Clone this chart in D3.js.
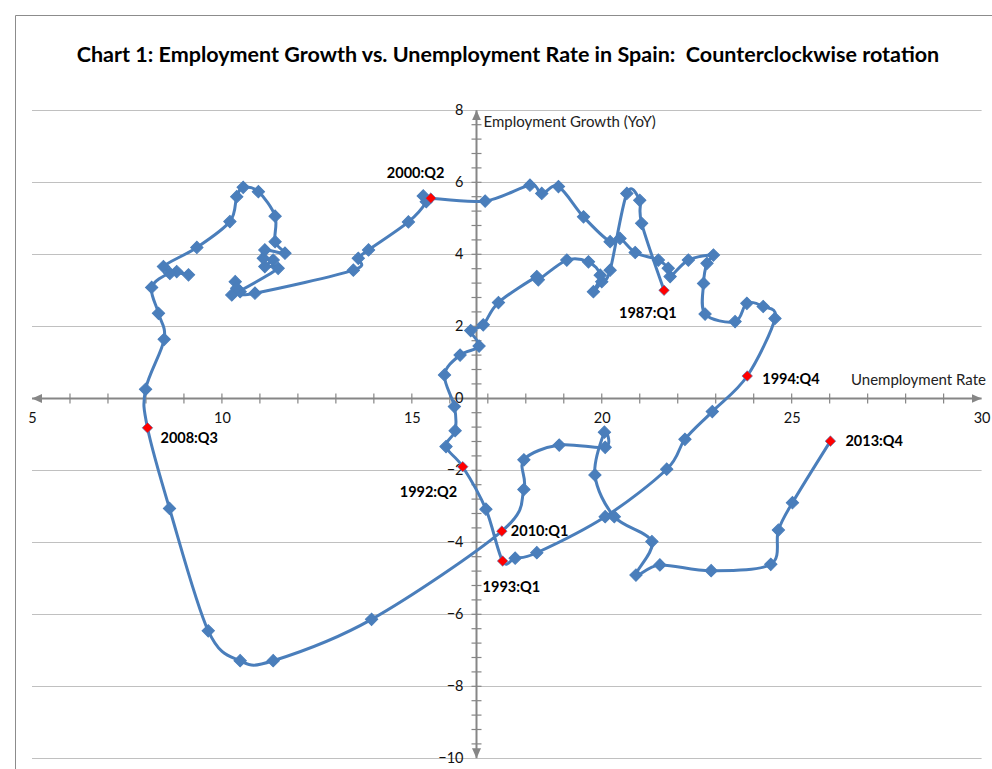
<!DOCTYPE html>
<html>
<head>
<meta charset="utf-8">
<script src="https://cdn.jsdelivr.net/npm/d3@7"></script>
<style>
  body { margin: 0; background: #fff; }
  svg { display: block; font-family: Lato, "Open Sans", sans-serif; }
</style>
</head>
<body>
<div id="chart"></div>
<script>
// unemployment rate (x) and employment growth YoY (y), quarterly 1987:Q1 .. 2013:Q4
const unemp = [
    21.64, 21.05, 21.00, 20.66, 20.22, 20.00, 19.78, 19.96, 19.65, 19.08, 18.33, 18.29,
    17.28, 16.88, 16.55, 16.77, 16.27, 15.86, 16.12, 16.14, 15.90, 16.34,
    16.95, 17.39, 17.72, 18.29, 20.09, 21.71, 22.19, 22.91, 23.83,
    24.56, 24.25, 23.82, 23.51, 22.72, 22.68, 22.77, 22.94, 22.28, 21.80, 21.75, 21.49,
    20.88, 20.48, 20.22, 19.52, 18.86, 18.42, 18.11, 16.93, 15.50,
    15.30, 15.38, 14.91, 13.86, 13.59, 13.46, 10.87, 10.48, 10.35, 10.39, 10.26,
    11.48, 11.13, 11.35, 11.09, 11.13, 11.66, 11.40,
    11.40, 10.96, 10.56, 10.39, 10.21, 9.34, 8.46, 8.81, 9.12, 8.63, 8.15, 8.33, 8.48, 7.99, 8.04,
    8.62, 9.64, 10.48, 11.35, 13.94, 17.37, 17.95, 17.95, 18.88, 20.09, 20.07, 19.82, 20.33,
    21.32, 20.90, 21.53, 22.88, 24.45, 24.65, 25.02, 26.02
];
const growth = [
    3.00, 4.86, 5.50, 5.69, 3.56, 3.24, 2.96, 3.42, 3.79, 3.84, 3.29, 3.38,
    2.66, 2.04, 1.88, 1.45, 1.20, 0.65, -0.23, -0.90, -1.34, -1.90,
    -3.08, -4.52, -4.44, -4.29, -3.29, -1.97, -1.14, -0.37, 0.62,
    2.22, 2.55, 2.64, 2.13, 2.34, 3.19, 3.75, 3.98, 3.84, 3.38, 3.61, 3.84,
    4.05, 4.44, 4.35, 5.04, 5.88, 5.69, 5.92, 5.48, 5.56,
    5.62, 5.46, 4.90, 4.12, 3.89, 3.56, 2.92, 2.96, 3.24, 3.06, 2.87,
    3.61, 3.66, 3.84, 3.89, 4.12, 4.03, 4.35,
    5.06, 5.74, 5.86, 5.60, 4.91, 4.19, 3.66, 3.52, 3.43, 3.47, 3.08, 2.36, 1.64, 0.25, -0.82,
    -3.06, -6.46, -7.29, -7.29, -6.14, -3.69, -2.53, -1.71, -1.30, -1.36, -0.94, -2.13, -3.29,
    -3.98, -4.91, -4.63, -4.79, -4.61, -3.66, -2.90, -1.19
];

// highlighted quarters: [index in series, label]
const marked = [
    [0, "1987:Q1"], [21, "1992:Q2"], [23, "1993:Q1"], [30, "1994:Q4"],
    [51, "2000:Q2"], [84, "2008:Q3"], [90, "2010:Q1"], [105, "2013:Q4"]
];
// label offset from its point (left edge, vertical centre)
const labelOffset = {
    "1987:Q1": [-45, 23], "1992:Q2": [-63, 25], "1993:Q1": [-20, 26], "1994:Q4": [15, 3],
    "2000:Q2": [-44, -25], "2008:Q3": [13, 10], "2010:Q1": [9, 0], "2013:Q4": [15, 0]
};

const xTicks = [5, 10, 15, 20, 25, 30];
const yTicks = [-10, -8, -6, -4, -2, 0, 2, 4, 6, 8];
const yCross = 16.7; // where the vertical axis crosses the x axis

const width = 992, height = 769;
const blue = "#4a7ebb", axisGray = "#868686", gridGray = "#c0c0c0";

const x = d3.scaleLinear().domain([5, 30]).range([32, 981.6]);
const y = d3.scaleLinear().domain([-10, 8]).range([758.3, 110.3]);

const svg = d3.select("#chart").append("svg")
    .attr("width", width)
    .attr("height", height);

// arrow heads for the axes
const defs = svg.append("defs");
defs.append("marker")
    .attr("id", "arrow")
    .attr("viewBox", "0 0 10 10")
    .attr("refX", 10).attr("refY", 5)
    .attr("markerWidth", 10).attr("markerHeight", 10)
    .attr("markerUnits", "userSpaceOnUse")
    .attr("orient", "auto-start-reverse")
    .append("path")
    .attr("d", "M0,0.5 L10,5 L0,9.5 Z")
    .attr("fill", axisGray);

// chart frame
svg.append("path")
    .attr("d", `M15.5,${height} V15.5 H${width}`)
    .attr("fill", "none")
    .attr("stroke", "#8c8c8c")
    .attr("stroke-width", 1);

// title
const title = svg.append("text")
    .attr("x", 508)
    .attr("y", 62)
    .attr("text-anchor", "middle")
    .attr("font-weight", "bold")
    .attr("font-size", "20px")
    .attr("fill", "#000")
    .text("Chart 1: Employment Growth vs. Unemployment Rate in Spain:  Counterclockwise rotation")
    .style("white-space", "pre");
const tw = title.node().getComputedTextLength();
title.attr("font-size", (20 * 863 / tw).toFixed(2) + "px");

// horizontal gridlines
svg.append("g")
    .selectAll("line")
    .data(yTicks.filter(d => d !== 0))
    .join("line")
    .attr("x1", x(5)).attr("x2", x(30))
    .attr("y1", d => Math.round(y(d)) + 0.5)
    .attr("y2", d => Math.round(y(d)) + 0.5)
    .attr("stroke", gridGray)
    .attr("stroke-width", 1);

// x axis line, ticks crossing it
const y0 = Math.round(y(0)) + 0.5;
svg.append("line")
    .attr("x1", x(5)).attr("x2", x(30))
    .attr("y1", y0).attr("y2", y0)
    .attr("stroke", axisGray)
    .attr("stroke-width", 2)
    .attr("marker-start", "url(#arrow)")
    .attr("marker-end", "url(#arrow)");

svg.append("g")
    .selectAll("line")
    .data(d3.range(6, 30))
    .join("line")
    .attr("x1", d => x(d)).attr("x2", d => x(d))
    .attr("y1", y0 - 5).attr("y2", y0 + 5)
    .attr("stroke", axisGray)
    .attr("stroke-width", 1.2);

// x tick labels through d3 axis
const xAxis = svg.append("g")
    .attr("transform", `translate(0,${y0})`)
    .call(d3.axisBottom(x).tickValues(xTicks).tickSize(0).tickPadding(14).tickFormat(d3.format("d")));
xAxis.select(".domain").remove();
xAxis.selectAll("text")
    .attr("font-family", "Lato, 'Open Sans', sans-serif")
    .attr("font-size", "14.5px")
    .attr("fill", "#111");

// y axis line with crossing ticks
const xc = Math.round(x(yCross)) + 0.5;
svg.append("line")
    .attr("x1", xc).attr("x2", xc)
    .attr("y1", y(-10)).attr("y2", y(8))
    .attr("stroke", axisGray)
    .attr("stroke-width", 2)
    .attr("marker-start", "url(#arrow)")
    .attr("marker-end", "url(#arrow)");

svg.append("g")
    .selectAll("line")
    .data(d3.range(-9.6, 8, 0.4).filter(d => Math.abs(d) > 0.1))
    .join("line")
    .attr("x1", xc - 5).attr("x2", xc + 5)
    .attr("y1", d => y(d)).attr("y2", d => y(d))
    .attr("stroke", axisGray)
    .attr("stroke-width", 1.2);

const yAxis = svg.append("g")
    .attr("transform", `translate(${xc - 11},0)`)
    .call(d3.axisLeft(y).tickValues(yTicks).tickSize(0).tickPadding(2).tickFormat(d3.format("d")));
yAxis.select(".domain").remove();
yAxis.selectAll("text")
    .attr("font-family", "Lato, 'Open Sans', sans-serif")
    .attr("font-size", "14.5px")
    .attr("fill", "#111");

// axis titles
svg.append("text")
    .attr("x", xc + 7)
    .attr("y", 122)
    .attr("dy", "0.35em")
    .attr("font-size", "15px")
    .attr("fill", "#222")
    .text("Employment Growth (YoY)");

svg.append("text")
    .attr("x", 986)
    .attr("y", 380)
    .attr("dy", "0.35em")
    .attr("text-anchor", "end")
    .attr("font-size", "15px")
    .attr("fill", "#222")
    .text("Unemployment Rate");

// the series
const points = unemp.map((u, i) => ({ u, g: growth[i], i }));

const line = d3.line()
    .x(d => x(d.u))
    .y(d => y(d.g))
    .curve(d3.curveCardinal.tension(0));

svg.append("path")
    .datum(points)
    .attr("d", line)
    .attr("fill", "none")
    .attr("stroke", blue)
    .attr("stroke-width", 3)
    .attr("stroke-linejoin", "round");

const diamond = d3.symbol().type(d3.symbolSquare);
const markedIdx = new Set(marked.map(m => m[0]));

svg.append("g")
    .selectAll("path")
    .data(points.filter(d => !markedIdx.has(d.i)))
    .join("path")
    .attr("d", diamond.size(76)())
    .attr("transform", d => `translate(${x(d.u)},${y(d.g)}) rotate(45)`)
    .attr("fill", blue)
    .attr("stroke", blue)
    .attr("stroke-width", 1);

const hl = marked.map(([i, label]) => ({ u: unemp[i], g: growth[i], label }));

svg.append("g")
    .selectAll("path")
    .data(hl)
    .join("path")
    .attr("d", diamond.size(56)())
    .attr("transform", d => `translate(${x(d.u)},${y(d.g)}) rotate(45)`)
    .attr("fill", "#ff0000")
    .attr("stroke", blue)
    .attr("stroke-width", 0.6);

svg.append("g")
    .selectAll("text")
    .data(hl)
    .join("text")
    .attr("x", d => x(d.u) + labelOffset[d.label][0])
    .attr("y", d => y(d.g) + labelOffset[d.label][1])
    .attr("dy", "0.35em")
    .attr("font-size", "14.5px")
    .attr("font-weight", "bold")
    .attr("fill", "#000")
    .text(d => d.label);
</script>
</body>
</html>
